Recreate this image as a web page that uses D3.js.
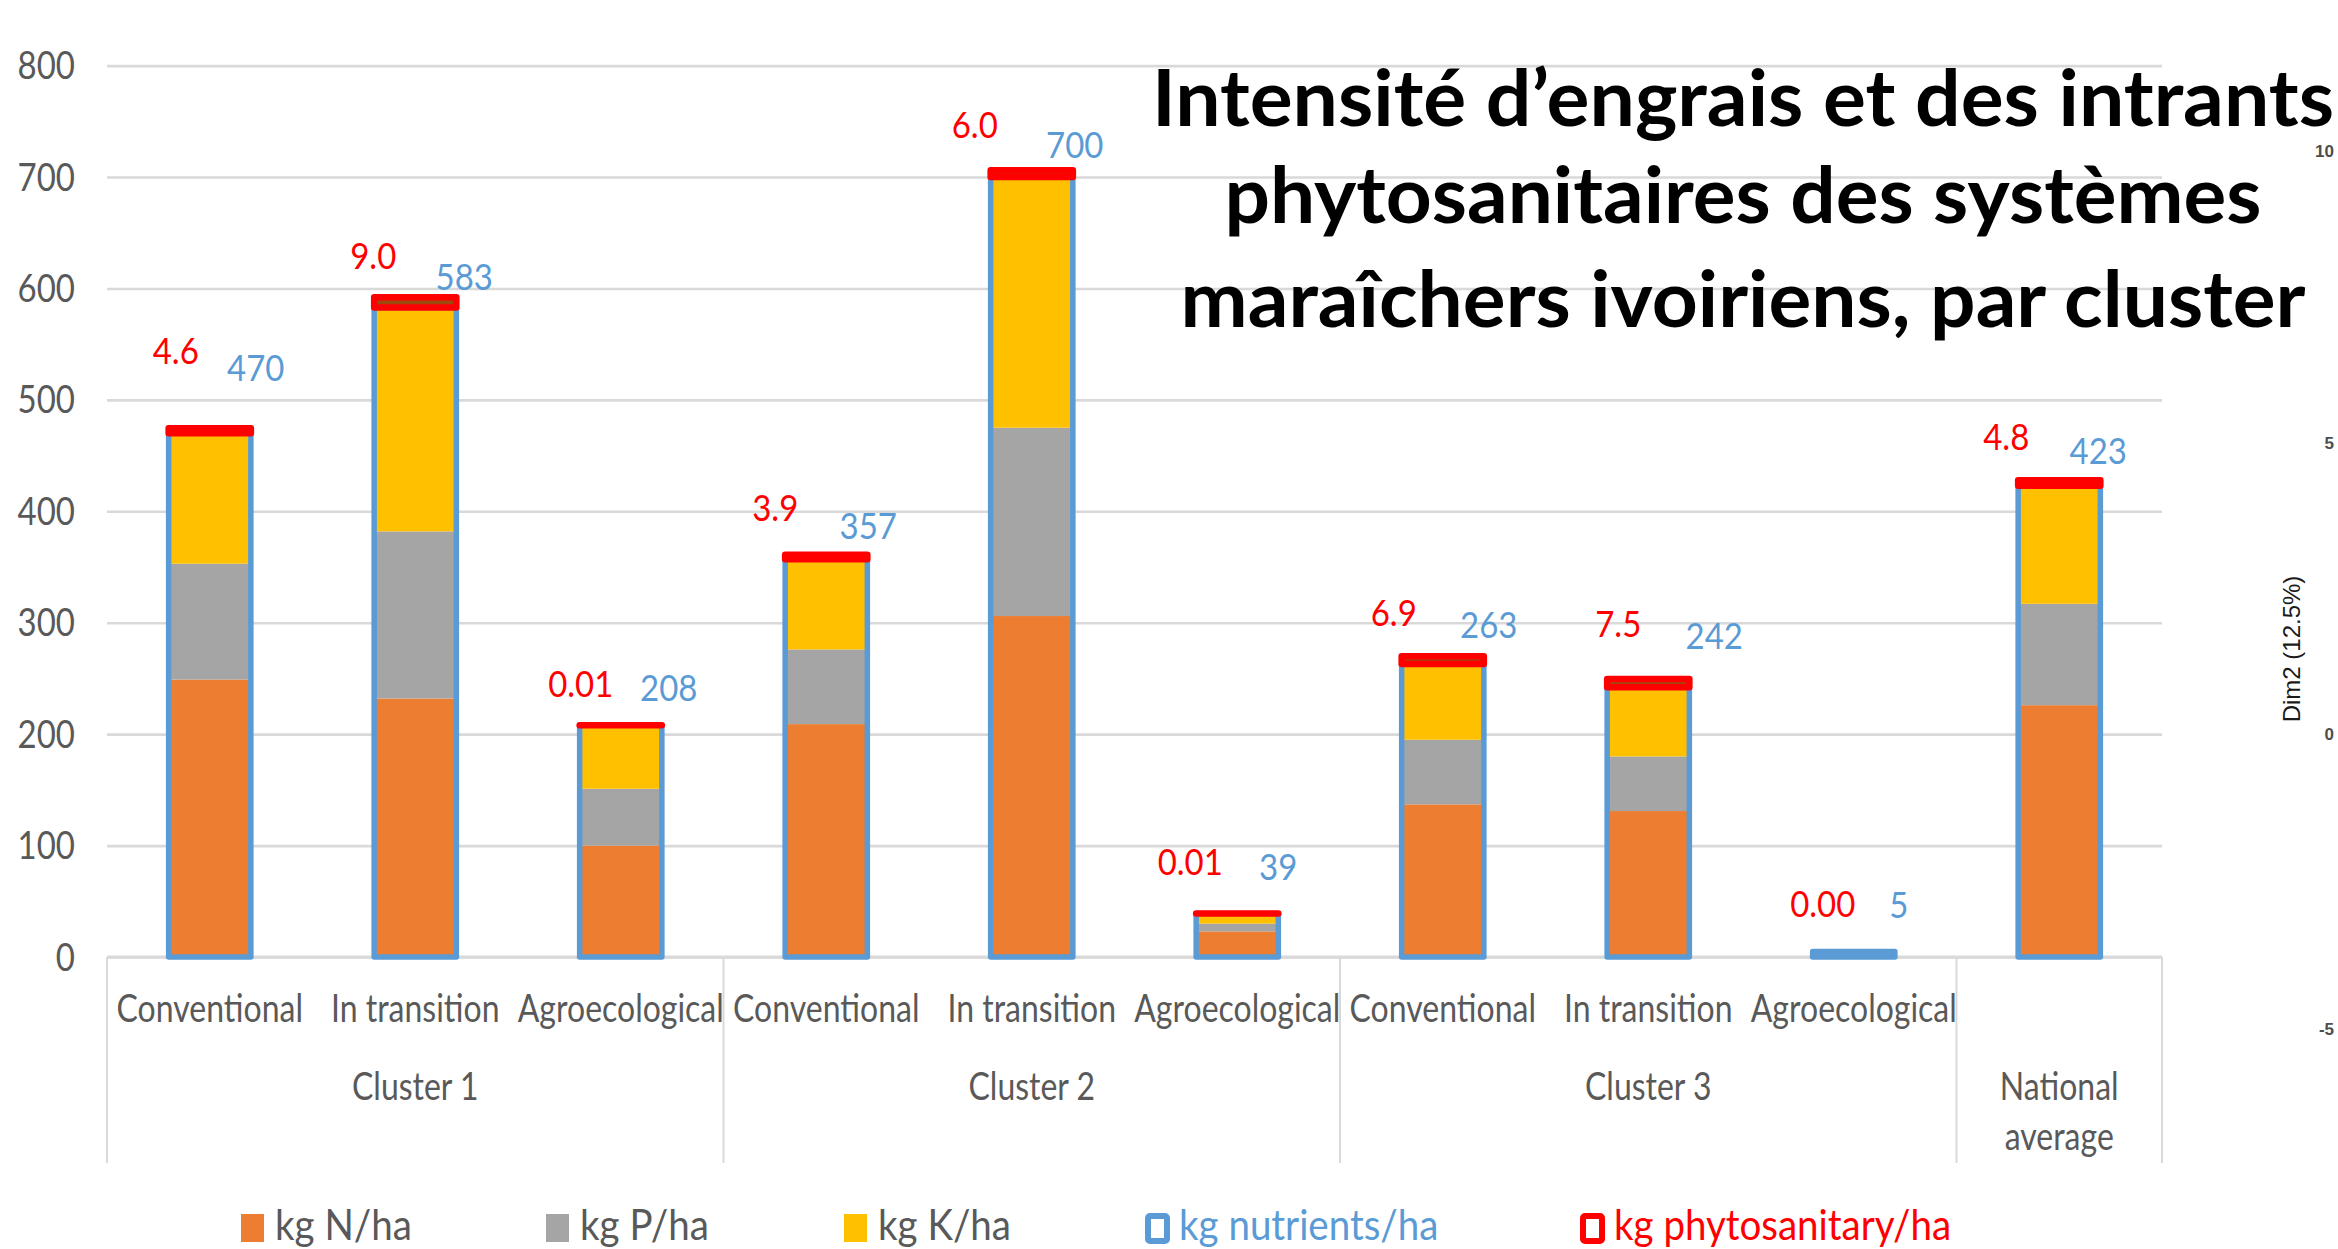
<!DOCTYPE html>
<html>
<head>
<meta charset="utf-8">
<script src="https://cdn.jsdelivr.net/npm/d3@7"></script>
<style>
  body { margin: 0; background: #fff; }
  svg { display: block; }
  text { font-family: Lato, "Liberation Sans Narrow", sans-serif; }
</style>
</head>
<body>
<svg id="chart" width="2338" height="1249"></svg>
<script>
// --- data ---
var categories = ["Conventional", "In transition", "Agroecological",
                  "Conventional", "In transition", "Agroecological",
                  "Conventional", "In transition", "Agroecological", ""];
var groups = ["Cluster 1", "Cluster 1", "Cluster 1",
              "Cluster 2", "Cluster 2", "Cluster 2",
              "Cluster 3", "Cluster 3", "Cluster 3", "National average"];
var nitrogen   = [249, 232, 100, 209, 306, 23, 137, 131, 3, 226];
var phosphorus = [104, 150,  51,  67, 169,  7,  58,  49, 1,  91];
var potassium  = [117, 201,  57,  81, 225,  9,  68,  62, 1, 106];
var nutrients  = [470, 583, 208, 357, 700, 39, 263, 242, 5, 423];
var phytosanitary = [4.6, 9.0, 0.01, 3.9, 6.0, 0.01, 6.9, 7.5, 0.00, 4.8];
var phytoLabels = ["4.6", "9.0", "0.01", "3.9", "6.0", "0.01", "6.9", "7.5", "0.00", "4.8"];
var yTicks = [0, 100, 200, 300, 400, 500, 600, 700, 800];
var legendLabels = ["kg N/ha", "kg P/ha", "kg K/ha", "kg nutrients/ha", "kg phytosanitary/ha"];
var titleLines = ["Intensité d\u2019engrais et des intrants",
                  "phytosanitaires des systèmes",
                  "maraîchers ivoiriens, par cluster"];
var strayTicks = ["10", "5", "0", "-5"];

function drawChart() {
  // colours
  var cN = "#ED7D31", cP = "#A5A5A5", cK = "#FFC000", cBlue = "#5B9BD5", cRed = "#FF0000";
  var grid = "#D9D9D9", txt = "#595959";

  var svg = d3.select("#chart");
  var plotLeft = 107, plotRight = 2162, plotTop = 65.6, plotBottom = 957;

  // labels were dragged by hand in the original: offsets from bar centre / bar top (px)
  var redDx = [-34, -42, -40, -51, -57, -47, -49, -30, -31, -53];
  var redDy = [-82, -51, -41, -51, -52, -52, -51, -63, -47, -49];
  var blueDx = [46, 49, 48, 42, 43, 41, 46, 66, 45, 39];
  var blueDy = [-65, -30, -37, -33, -32, -47, -39, -51, -46, -35];

  var idx = d3.range(categories.length);
  var x = d3.scaleBand().domain(idx).range([plotLeft, plotRight]).paddingInner(0.6).paddingOuter(0.3);
  var y = d3.scaleLinear().domain([0, 800]).range([plotBottom, plotTop]);

  // gridlines + y labels via axis
  var yAxis = d3.axisLeft(y).tickValues(yTicks).tickSize(-(plotRight - plotLeft)).tickPadding(32);
  var gy = svg.append("g").attr("transform", "translate(" + plotLeft + ",0)").call(yAxis);
  gy.select(".domain").remove();
  gy.selectAll(".tick line").attr("stroke", grid).attr("stroke-width", 2.6);
  gy.selectAll(".tick text")
    .attr("fill", txt).style("font-size", "33px").style("font-family", "Lato, sans-serif")
    .attr("dy", null).attr("y", 0)
    .attr("transform", "translate(0,13) scale(1,1.15)");

  // category box under the axis
  var gap = x.step() - x.bandwidth();
  var bounds = [plotLeft];
  idx.forEach(function(i) {
    if (i > 0 && groups[i] !== groups[i - 1]) bounds.push(x(i) - gap / 2);
  });
  bounds.push(plotRight);
  svg.selectAll("line.sep").data(bounds).enter().append("line")
    .attr("class", "sep")
    .attr("x1", function(d) { return d; }).attr("x2", function(d) { return d; })
    .attr("y1", plotBottom).attr("y2", 1163)
    .attr("stroke", grid).attr("stroke-width", 2);

  // category labels
  svg.selectAll("text.cat").data(idx).enter().append("text")
    .attr("class", "cat")
    .attr("text-anchor", "middle")
    .attr("transform", function(i) { return "translate(" + (x(i) + x.bandwidth() / 2) + ",1022) scale(1,1.18)"; })
    .attr("fill", txt).style("font-size", "32px")
    .text(function(i) { return categories[i]; });

  // group labels
  var groupNames = [];
  groups.forEach(function(g, i) { if (i === 0 || g !== groups[i - 1]) groupNames.push(g); });
  groupNames.forEach(function(g, k) {
    var cx = (bounds[k] + bounds[k + 1]) / 2;
    var words = g === "National average" ? ["National", "average"] : [g];
    words.forEach(function(w, j) {
      svg.append("text")
        .attr("text-anchor", "middle")
        .attr("transform", "translate(" + cx + "," + (1100 + j * 50) + ") scale(1,1.18)")
        .attr("fill", txt).style("font-size", "32px")
        .text(w);
    });
  });

  // stacked segments
  var stackData = idx.map(function(i) { return { i: i, N: nitrogen[i], P: phosphorus[i], K: potassium[i] }; });
  var series = d3.stack().keys(["N", "P", "K"])(stackData);
  var colors = { N: cN, P: cP, K: cK };
  svg.append("g").selectAll("g").data(series).enter().append("g")
    .attr("fill", function(s) { return colors[s.key]; })
    .selectAll("rect").data(function(s) { return s; }).enter().append("rect")
    .attr("x", function(d) { return x(d.data.i); })
    .attr("width", x.bandwidth())
    .attr("y", function(d) { return y(d[1]); })
    .attr("height", function(d) { return y(d[0]) - y(d[1]); });

  // zero axis line
  svg.append("line").attr("x1", plotLeft).attr("x2", plotRight).attr("y1", plotBottom).attr("y2", plotBottom)
    .attr("stroke", grid).attr("stroke-width", 3);

  // nutrients total outline
  svg.append("g").selectAll("rect").data(idx).enter().append("rect")
    .attr("x", function(i) { return x(i); })
    .attr("width", x.bandwidth())
    .attr("y", function(i) { return y(nutrients[i]); })
    .attr("height", function(i) { return y(0) - y(nutrients[i]); })
    .attr("fill", "none").attr("stroke", cBlue).attr("stroke-width", 5.5)
    .attr("stroke-linejoin", "round");

  // phytosanitary cap on top
  svg.append("g").selectAll("rect").data(idx.filter(function(i) { return phytosanitary[i] > 0; })).enter().append("rect")
    .attr("x", function(i) { return x(i); })
    .attr("width", x.bandwidth())
    .attr("y", function(i) { return y(nutrients[i] + phytosanitary[i]); })
    .attr("height", function(i) { return y(nutrients[i]) - y(nutrients[i] + phytosanitary[i]); })
    .attr("fill", "#9E480E").attr("stroke", cRed).attr("stroke-width", 6.5)
    .attr("stroke-linejoin", "round");

  // value labels
  svg.append("g").selectAll("text").data(idx).enter().append("text")
    .attr("text-anchor", "middle")
    .attr("transform", function(i) {
      return "translate(" + (x(i) + x.bandwidth() / 2 + redDx[i]) + "," +
        (y(nutrients[i]) + redDy[i] + 13) + ") scale(1,1.12)";
    })
    .attr("fill", cRed).style("font-size", "33px")
    .text(function(i) { return phytoLabels[i]; });
  svg.append("g").selectAll("text").data(idx).enter().append("text")
    .attr("text-anchor", "middle")
    .attr("transform", function(i) {
      return "translate(" + (x(i) + x.bandwidth() / 2 + blueDx[i]) + "," +
        (y(nutrients[i]) + blueDy[i] + 13) + ") scale(1,1.12)";
    })
    .attr("fill", cBlue).style("font-size", "33px")
    .text(function(i) { return nutrients[i]; });

  // legend
  var legX = [241, 546, 844, 1145, 1580];
  var legFill = [cN, cP, cK, "#fff", "#fff"];
  var legStroke = [null, null, null, cBlue, cRed];
  var legText = [txt, txt, txt, cBlue, cRed];
  var lg = svg.append("g");
  legendLabels.forEach(function(l, k) {
    var r = lg.append("rect").attr("fill", legFill[k]);
    if (legStroke[k]) {
      r.attr("x", legX[k] + 3).attr("y", 1216).attr("width", 19).attr("height", 25)
       .attr("stroke", legStroke[k]).attr("stroke-width", 6).attr("rx", 2);
    } else {
      r.attr("x", legX[k]).attr("y", 1214).attr("width", 23).attr("height", 28);
    }
    lg.append("text").attr("transform", "translate(" + (legX[k] + 34) + ",1240) scale(1,1.08)")
      .attr("fill", legText[k]).style("font-size", "38.5px").text(l);
  });

  // title
  var titleBase = [126, 223, 327];
  var titleLen = [1182, 1037, 1125];
  titleLines.forEach(function(t, k) {
    svg.append("text").attr("x", 1743).attr("y", titleBase[k])
      .attr("text-anchor", "middle")
      .attr("textLength", titleLen[k]).attr("lengthAdjust", "spacingAndGlyphs")
      .style("font-size", "78px").style("font-weight", "700").attr("fill", "#000")
      .text(t);
  });

  // bits of another figure visible at the right edge
  var strayY = [157, 449, 740, 1035];
  strayTicks.forEach(function(t, k) {
    svg.append("text").attr("x", 2334).attr("y", strayY[k]).attr("text-anchor", "end")
      .style("font-family", "Liberation Sans, Arial, sans-serif").style("font-size", "17px")
      .style("font-weight", "700").attr("fill", "#4D4D4D").text(t);
  });
  svg.append("text")
    .attr("transform", "translate(2300,649) rotate(-90)")
    .attr("text-anchor", "middle")
    .style("font-family", "Liberation Sans Narrow, Arial, sans-serif").style("font-size", "24px")
    .attr("fill", "#1a1a1a").text("Dim2 (12.5%)");
}
drawChart();
</script>
</body>
</html>
